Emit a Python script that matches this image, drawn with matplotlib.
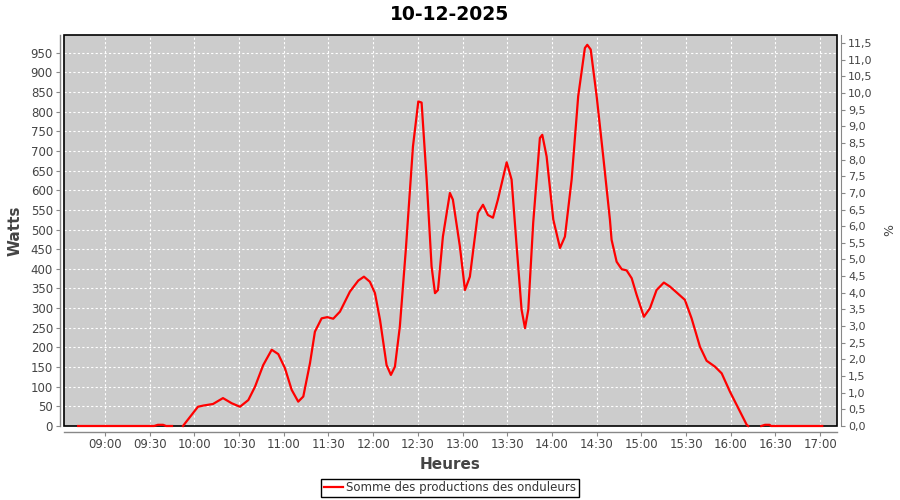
import matplotlib
matplotlib.use("Agg")
import matplotlib.pyplot as plt
import numpy as np
from matplotlib.patches import Rectangle

title = "10-12-2025"
series_name = "Somme des productions des onduleurs"
x_label = "Heures"
y_label = "Watts"
y2_label = "%"

times = [
    "08:42:00", "09:33:00", "09:35:30", "09:39:00", "09:41:00", "09:45:00", None,
    "09:52:20", "10:02:24", "10:06:00", "10:12:30", "10:19:12", "10:25:00",
    "10:30:36", "10:36:12", "10:40:42", "10:46:12", "10:51:54", "10:56:18", "11:00:48",
    "11:05:18", "11:09:42", "11:13:06", "11:17:36", "11:20:54", "11:25:24", "11:29:12",
    "11:33:12", "11:37:42", "11:44:24", "11:50:00", "11:53:48", "11:57:48", "12:01:12",
    "12:04:36", "12:09:00", "12:11:54", "12:14:36", "12:17:54", "12:21:54",
    "12:26:42", "12:30:18",
    "12:32:30", "12:35:54", "12:39:12", "12:41:30", "12:43:30", "12:46:48", "12:51:30",
    "12:53:30", "12:58:12", "13:01:36", "13:04:54", "13:10:18", "13:13:42", "13:17:00",
    "13:20:24", "13:23:42", "13:29:36", "13:32:54", "13:36:18", "13:39:36", "13:41:54",
    "13:44:06", "13:47:24", "13:51:54", "13:53:30", "13:56:24", "14:00:54", "14:05:24",
    "14:08:42", "14:13:12", "14:17:36", "14:22:06", "14:23:42", "14:26:00", "14:30:00",
    "14:34:24", "14:38:54", "14:40:00", "14:43:24", "14:46:48", "14:50:06", "14:53:30",
    "14:56:48", "15:01:42", "15:05:48", "15:10:12", "15:15:06", "15:19:06", "15:23:36",
    "15:29:12", "15:33:42", "15:39:18", "15:43:48", "15:49:24", "15:53:54", "15:59:30",
    "16:05:06", "16:10:42", "16:11:42", None,
    "16:20:30", "16:23:00", "16:26:00", "16:27:00", "17:01:24",
]
watts = [
    0, 0, 3, 3, 0, 0, None,
    0, 49, 52, 56, 71, 58,
    49, 66, 100, 155, 194, 183, 147,
    92, 62, 75, 160, 240, 274, 277,
    273, 291, 342, 370, 380, 367, 338,
    270, 155, 130, 151, 253, 448,
    711, 826,
    823, 627, 406, 338, 346, 482, 593,
    576, 457, 346, 380, 542, 563, 537,
    530, 576, 671, 627, 457, 296, 249,
    296, 517, 733, 741, 686, 525, 453,
    482, 627, 839, 962, 970, 958, 839,
    686, 525, 474, 418, 399, 396, 376,
    334, 278, 300, 346, 365, 355, 340,
    321, 274, 202, 166, 151, 134, 87,
    45, 3, 0, None,
    0, 3, 3, 0, 0,
]
tick_times = ["09:00", "09:30", "10:00", "10:30", "11:00", "11:30", "12:00", "12:30",
              "13:00", "13:30", "14:00", "14:30", "15:00", "15:30", "16:00", "16:30", "17:00"]
watt_ticks = list(range(0, 951, 50))
pct_ticks = [i * 0.5 for i in range(0, 24)]


def to_min(s):
    if s is None:
        return np.nan
    parts = [float(p) for p in s.split(":")]
    while len(parts) < 3:
        parts.append(0.0)
    return parts[0] * 60 + parts[1] + parts[2] / 60


t = np.array([to_min(s) for s in times], dtype=float)
w = np.array([np.nan if v is None else v for v in watts], dtype=float)

fig = plt.figure(figsize=(9, 5), dpi=100)
ax = fig.add_axes([64 / 900, 74 / 500, 773 / 900, 391 / 500])
ax.set_facecolor("#CCCCCC")

line, = ax.plot(t, w, color="#FF0000", lw=1.6, zorder=5, clip_on=False,
                solid_joinstyle="round", label=series_name)

ax.set_xlim(512.5, 1031.3)
ax.set_ylim(0, 995)
ax.set_xticks([to_min(s) for s in tick_times])
ax.set_xticklabels(tick_times)
ax.set_yticks(watt_ticks)
ax.grid(True, color="white", linestyle=(0, (2, 2)), linewidth=0.8, zorder=1)
ax.set_axisbelow(True)

for s in ["top", "right"]:
    ax.spines[s].set_visible(False)
ax.spines["left"].set_position(("outward", 3))
ax.spines["bottom"].set_position(("outward", 4))
for s in ["left", "bottom"]:
    ax.spines[s].set_color("#888888")
    ax.spines[s].set_linewidth(1.0)
ax.add_patch(Rectangle((0, 0), 1, 1, transform=ax.transAxes, fill=False,
                       edgecolor="black", lw=1.2, clip_on=False, zorder=4))
ax.tick_params(axis="both", direction="out", length=3, width=0.8, color="#888888",
               labelcolor="#444444", labelsize=8.5, pad=2)

ax.set_ylabel(y_label, fontsize=11, fontweight="bold", color="#444444", labelpad=6)
ax.set_xlabel(x_label, fontsize=11, fontweight="bold", color="#444444", labelpad=4)

ax2 = ax.twinx()
ax2.set_ylim(0, 11.74)
ax2.set_yticks(pct_ticks)
ax2.set_yticklabels([f"{v:.1f}".replace(".", ",") for v in pct_ticks])
for s in ["top", "left", "bottom"]:
    ax2.spines[s].set_visible(False)
ax2.spines["right"].set_position(("outward", 3))
ax2.spines["right"].set_color("#888888")
ax2.tick_params(axis="y", direction="out", length=3, width=0.8, color="#888888",
                labelcolor="#444444", labelsize=8, pad=2)
ax2.set_ylabel(y2_label, fontsize=9, color="#444444", labelpad=8)

fig.text(0.5, 1 - 14 / 500, title, ha="center", va="center",
         fontsize=13.5, fontweight="bold", color="black")

leg = fig.legend(handles=[line], loc="center", bbox_to_anchor=(450 / 900, 1 - 488 / 500),
                 frameon=True, fancybox=False, edgecolor="black", framealpha=1,
                 fontsize=8.5, handlelength=1.6, borderpad=0.25, handletextpad=0.3,
                 labelcolor="#333333")
leg.get_frame().set_linewidth(1.0)

fig.savefig("out.png", dpi=100)
